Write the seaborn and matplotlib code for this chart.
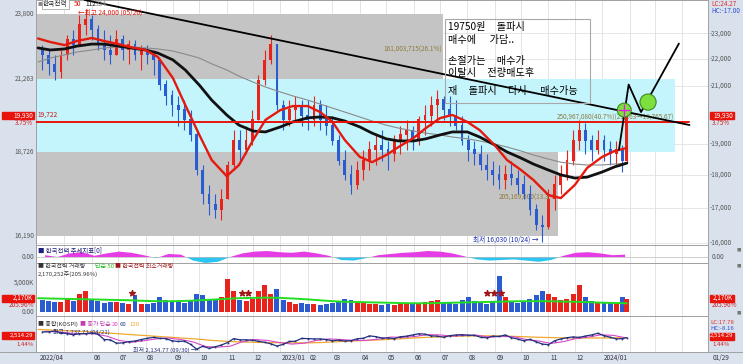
import numpy as np
import pandas as pd
import matplotlib
matplotlib.use("Agg")
import matplotlib.pyplot as plt
import matplotlib.dates as mdates
from matplotlib.patches import Rectangle
import seaborn as sns

sns.set_theme(style="white")
plt.rcParams['font.family'] = ['Noto Sans CJK KR', 'DejaVu Sans']

# ---------------- data (weekly) ----------------
week_start = "2022-04-04"
open_ = [22350, 22150, 21800, 21500, 22150, 22750, 22550, 23350, 23550, 23150,
         22550, 22350, 22150, 22750, 22350, 22550, 22150, 22350, 22150, 21950,
         21050, 20650, 20300, 20150, 19800, 19300, 18150, 17400, 17100, 16950,
         17250, 18300, 19100, 18800, 19100, 19800, 21200, 21950, 22550, 20300,
         19800, 20150, 20300, 19950, 19800, 20300, 19800, 19600, 19100, 18450,
         18000, 17700, 18150, 18450, 18800, 18950, 18800, 18650, 19100, 19300,
         19450, 19100, 19800, 19950, 20300, 20500, 20150, 19950, 19600, 19100,
         18800, 18650, 18300, 18150, 18000, 17850, 18000, 17900, 17700, 17400,
         16950, 16500, 16450, 17250, 17700, 18000, 18450, 19100, 19450, 19100,
         18800, 19100, 18800, 18650, 18800, 18450]
high = [22550, 22350, 22150, 22350, 22950, 23150, 23750, 24000, 23750, 23350,
        23150, 22950, 23150, 22950, 22750, 22750, 22550, 22550, 22350, 21950,
        21200, 20850, 20650, 20500, 20150, 19450, 18300, 17700, 17400, 17550,
        18450, 19450, 19450, 19600, 20150, 21400, 22350, 22950, 22600, 20500,
        20500, 20650, 20500, 20500, 20650, 20500, 20300, 19950, 19300, 18800,
        18300, 18450, 18800, 19100, 19300, 19450, 19100, 19300, 19600, 19800,
        19600, 19950, 20300, 20650, 20850, 20650, 20650, 20500, 19950, 19300,
        19100, 18950, 18650, 18450, 18300, 18300, 18450, 18150, 18000, 17700,
        17100, 16800, 17550, 18000, 18300, 18800, 19450, 19800, 19700, 19300,
        19450, 19300, 19100, 19100, 18950, 19980]
low = [21600, 21400, 21200, 21300, 21950, 22150, 22550, 22950, 22750, 22350,
       21950, 21800, 22150, 21950, 21800, 21950, 21600, 21800, 21400, 20850,
       20300, 19950, 19600, 19450, 19100, 18000, 17100, 16800, 16700, 16650,
       17250, 18150, 18450, 18650, 18950, 19800, 21050, 21800, 20150, 19450,
       19600, 19800, 19600, 19450, 19600, 19450, 19300, 18950, 18300, 17850,
       17400, 17550, 17850, 18150, 18300, 18450, 18150, 18450, 18650, 18800,
       18800, 18950, 19300, 19600, 19800, 19800, 19600, 19450, 18950, 18450,
       18300, 18150, 17850, 17700, 17550, 17550, 17700, 17400, 17250, 16800,
       16350, 16030, 16400, 16950, 17400, 17850, 18300, 18800, 18650, 18450,
       18650, 18450, 18300, 18300, 18100, 18400]
close = [22150, 21800, 21500, 22150, 22750, 22550, 23350, 23550, 23150, 22550,
         22350, 22150, 22750, 22350, 22550, 22150, 22350, 22150, 21950, 21050,
         20650, 20300, 20150, 19800, 19300, 18150, 17400, 17100, 16950, 17250,
         18300, 19100, 18800, 19100, 19800, 21200, 21950, 22550, 20300, 19800,
         20150, 20300, 19950, 19800, 20300, 19800, 19600, 19100, 18450, 18000,
         17700, 18150, 18450, 18800, 18950, 18800, 18650, 19100, 19300, 19450,
         19100, 19800, 19950, 20300, 20500, 20150, 19950, 19600, 19100, 18800,
         18650, 18300, 18150, 18000, 17850, 18000, 17900, 17700, 17400, 16950,
         16500, 16450, 17250, 17700, 18000, 18450, 19100, 19450, 19100, 18800,
         19100, 18800, 18650, 18800, 18450, 19930]
volume_k = [2000, 1800, 1600, 1700, 2200, 1800, 3000, 3500, 2000, 1800,
            1500, 1600, 1700, 1500, 1400, 2800, 1300, 1400, 1500, 2500,
            2000, 1800, 1600, 1500, 1800, 3000, 2800, 2200, 2000, 2500,
            5500, 3500, 2000, 1800, 2200, 3500, 4500, 3000, 3800, 2000,
            1600, 1400, 1500, 1300, 1400, 1200, 1300, 1500, 1800, 2200,
            2000, 1600, 1500, 1400, 1300, 1200, 1300, 1200, 1400, 1500,
            1300, 1500, 1600, 1800, 2000, 1700, 1500, 1400, 2000, 2500,
            1800, 1500, 1400, 1600, 6000, 2500, 1800, 1500, 1600, 2200,
            2800, 3500, 3000, 2500, 2000, 2200, 3000, 4500, 2500, 1800,
            1500, 1600, 1700, 1500, 2500, 2170]
kospi_close = [2700, 2700, 2730, 2670, 2645, 2605, 2640, 2640, 2670, 2625,
               2450, 2440, 2330, 2340, 2380, 2400, 2450, 2490, 2520, 2490,
               2480, 2410, 2385, 2400, 2290, 2135, 2230, 2160, 2210, 2270,
               2350, 2480, 2440, 2440, 2430, 2390, 2360, 2310, 2236, 2290,
               2385, 2395, 2485, 2480, 2470, 2470, 2450, 2410, 2430, 2400,
               2415, 2475, 2490, 2570, 2545, 2500, 2500, 2480, 2540, 2560,
               2600, 2640, 2625, 2570, 2560, 2525, 2575, 2600, 2610, 2590,
               2590, 2525, 2505, 2560, 2550, 2600, 2510, 2465, 2410, 2455,
               2375, 2300, 2280, 2410, 2470, 2510, 2535, 2520, 2565, 2600,
               2655, 2580, 2525, 2470, 2480, 2514]

# semi-monthly readings of the moving averages
ma_dates = ["2022-04-01", "2022-04-15", "2022-05-01", "2022-05-15", "2022-06-01", "2022-06-15",
            "2022-07-01", "2022-07-15", "2022-08-01", "2022-08-15", "2022-09-01", "2022-09-15",
            "2022-10-01", "2022-10-15", "2022-11-01", "2022-11-15", "2022-12-01", "2022-12-15",
            "2023-01-01", "2023-01-15", "2023-02-01", "2023-02-15", "2023-03-01", "2023-03-15",
            "2023-04-01", "2023-04-15", "2023-05-01", "2023-05-15", "2023-06-01", "2023-06-15",
            "2023-07-01", "2023-07-15", "2023-08-01", "2023-08-15", "2023-09-01", "2023-09-15",
            "2023-10-01", "2023-10-15", "2023-11-01", "2023-11-15", "2023-12-01", "2023-12-15",
            "2024-01-01", "2024-01-15", "2024-01-29"]
ma50 = [22800, 22660, 22540, 22700, 22820, 22700, 22580, 22460, 22350, 22080,
        21290, 20320, 19290, 18470, 17960, 18310, 19120, 19800, 20140, 20280,
        20280, 20070, 19730, 19120, 18570, 18400, 18630, 18890, 19190, 19520,
        19860, 19970, 19730, 19450, 18950, 18470, 18150, 17840, 17380, 17290,
        17690, 18220, 18570, 18760, 18860]
ma112 = [22430, 22350, 22390, 22500, 22580, 22580, 22500, 22430, 22350, 22230,
         21970, 21590, 21030, 20490, 19970, 19620, 19420, 19390, 19560, 19730,
         19870, 19900, 19870, 19760, 19560, 19350, 19160, 19090, 19090, 19160,
         19290, 19390, 19390, 19220, 18960, 18730, 18530, 18340, 18150, 18000,
         17900, 17930, 18090, 18250, 18370]
ma224 = [21890, 22040, 22160, 22270, 22350, 22430, 22470, 22470, 22430, 22390,
         22310, 22190, 22040, 21820, 21590, 21360, 21140, 20960, 20780, 20640,
         20490, 20350, 20210, 20070, 19900, 19760, 19620, 19520, 19420, 19350,
         19290, 19220, 19160, 19090, 18990, 18890, 18760, 18630, 18500, 18400,
         18340, 18310, 18310, 18340, 18370]
vol_ma50 = [2300, 2250, 2200, 2150, 2100, 2050, 2000, 1950, 1850, 1800,
            1800, 1850, 1950, 2050, 2200, 2300, 2350, 2400, 2350, 2250,
            2100, 1950, 1800, 1700, 1650, 1600, 1550, 1500, 1450, 1450,
            1500, 1550, 1600, 1650, 1700, 1750, 1800, 1800, 1800, 1750,
            1700, 1650, 1550, 1500, 1450]
kospi_ma120 = [2780, 2760, 2740, 2720, 2700, 2670, 2640, 2610, 2580, 2550,
               2520, 2490, 2460, 2420, 2390, 2370, 2360, 2350, 2345, 2340,
               2340, 2350, 2370, 2390, 2410, 2430, 2450, 2470, 2500, 2520,
               2540, 2555, 2565, 2570, 2570, 2560, 2545, 2530, 2515, 2505,
               2500, 2500, 2500, 2505, 2510]
# bi-weekly readings
kospi_ma20 = [2720, 2700, 2660, 2640, 2640, 2560, 2420, 2360, 2410, 2470,
              2500, 2450, 2370, 2220, 2200, 2230, 2380, 2450, 2420, 2350,
              2300, 2330, 2420, 2470, 2450, 2420, 2420, 2460, 2530, 2520,
              2550, 2610, 2600, 2560, 2590, 2590, 2530, 2550, 2540, 2450,
              2400, 2320, 2380, 2480, 2530, 2600, 2590, 2510]
trend_vals = [0.3, 0.0, 0.6, 0.8, 0.2, 0.6, 0.9, 0.7, 0.3, -0.2,
              0.5, 0.4, -0.6, -1.0, -0.8, 0.0, 0.6, 0.9, 1.0, 0.8,
              0.7, 0.9, 0.6, 0.2, -0.5, -0.6, -0.2, 0.3, 0.5, 0.7,
              0.8, 1.0, 0.9, 0.6, 0.1, -0.4, -0.6, -0.5, -0.4, -0.6,
              -0.8, -0.5, 0.2, 0.7, 0.8, 0.6, 0.3, 0.4]

# drawn annotations (date, price)
box_start = ["2022-03-29", "2022-03-29", "2022-03-29"]
box_end = ["2023-07-04", "2024-03-24", "2023-11-12"]
box_low = [21263, 18726, 16190]
box_high = [23800, 21263, 18726]
box_colors = ["#c4c4c4", "#c4f5fc", "#c4c4c4"]
box_labels = ["161,003,715(26.1%)", "250,967,080(40.7%)(21,263→19,765.67)", "205,169,000(13.3%)"]
box_label_price = [22350, 19880, 17300]
hline_price = 19722
hline_end = "2024-04-09"
trend_dates = ["2022-05-24", "2024-04-09"]
trend_prices = [24373, 19624]
path_dates = ["2024-01-20", "2024-01-31", "2024-02-14", "2024-03-28"]
path_prices = [18800, 21050, 20070, 22600]
circle_dates = ["2024-01-26", "2024-02-22"]
circle_prices = [20140, 20420]
star_dates = ["2022-07-17", "2022-11-18", "2022-11-25", "2023-08-23", "2023-08-31", "2023-09-08"]
star_vol = [3200, 3200, 3200, 3200, 3200, 3200]
right_ticks = [16000, 17000, 18000, 19000, 21000, 22000, 23000]
left_ticks = [23800, 21263, 18726, 16190]
month_labels = ["2022/04", "", "06", "07", "08", "09", "10", "11", "12", "2023/01", "02", "03",
                "04", "05", "06", "07", "08", "09", "10", "11", "12", "2024/01"]
note_lines = ["19750원     돌파시", "매수에      가담..", "손절가는     매수가",
              "이탈시     전량매도후", "재     돌파시     다시      매수가능"]

# ---------------- frame ----------------
W, H = 743, 364
fig = plt.figure(figsize=(W / 100, H / 100), dpi=100)
fig.patch.set_facecolor("white")
side = "#d9e1ec"
fig.add_artist(Rectangle((0, 0), 36 / W, 1, transform=fig.transFigure, color=side, zorder=0))
fig.add_artist(Rectangle((708 / W, 0), 35 / W, 1, transform=fig.transFigure, color=side, zorder=0))
fig.add_artist(Rectangle((0, 0), 1, 12 / H, transform=fig.transFigure, color="#dbe3ee", zorder=0))

SMALL = 4.6

def px_axes(x0, y0, x1, y1):
    return fig.add_axes([x0 / W, 1 - y1 / H, (x1 - x0) / W, (y1 - y0) / H])

def ftext(x, y, s, **kw):
    kw.setdefault("fontsize", SMALL)
    kw.setdefault("va", "center")
    fig.text(x / W, 1 - y / H, s, **kw)

def red_box(x0, x1, yc, s, fs=SMALL):
    fig.add_artist(Rectangle((x0 / W, 1 - (yc + 3.5) / H), (x1 - x0) / W, 7 / H,
                             transform=fig.transFigure, color="#e8140c", zorder=5))
    ftext(x1 - 1, yc, s, ha="right", color="white", zorder=6, fontsize=fs)

D = lambda s: mdates.date2num(pd.Timestamp(s))
xmin, xmax = D("2022-03-29 17:00"), D("2024-04-30")

ax_main = px_axes(36, 0, 708, 245)
ax_tr = px_axes(36, 245, 708, 263)
ax_vol = px_axes(36, 263, 708, 316)
ax_ks = px_axes(36, 316, 708, 352)

months = pd.date_range("2022-04-01", "2024-04-01", freq="MS")
for ax in (ax_main, ax_tr, ax_vol, ax_ks):
    ax.set_facecolor("white")
    ax.set_xlim(xmin, xmax)
    for m in months[1:]:
        ax.axvline(D(m), color="#dedede", lw=0.6, zorder=0)
    for sp in ax.spines.values():
        sp.set_color("#a0a0a0")
        sp.set_linewidth(0.7)

# ---------------- main price panel ----------------
ax_main.set_yscale("log")
ax_main.set_ylim(15939, 24373)
for p in right_ticks:
    ax_main.axhline(p, color="#e2e2e2", lw=0.6, zorder=0)

for i in range(3):
    ax_main.add_patch(Rectangle((D(box_start[i]), box_low[i]), D(box_end[i]) - D(box_start[i]),
                                box_high[i] - box_low[i], color=box_colors[i], zorder=1, lw=0))
    ax_main.text(D(box_end[i]) - 1, box_label_price[i], box_labels[i], ha="right", va="center",
                 fontsize=4.6, color="#8c7a3c", zorder=3)

wk = pd.date_range(week_start, periods=len(close), freq="7D")
xc = np.array([D(d) for d in wk]) + 2.0
xc[-1] = D("2024-01-29")
o, hi, lo, c = map(np.array, (open_, high, low, close))
up = c >= o
cols = np.where(up, "#e8231c", "#2a5bd0")
ax_main.vlines(xc, lo, hi, colors=cols, lw=0.8, zorder=4)
ax_main.bar(xc, np.abs(c - o) + 15, bottom=np.minimum(o, c), width=3.2, color=cols, zorder=4, lw=0)

ma_df = pd.DataFrame({"date": [D(d) for d in ma_dates], "ma50": ma50, "ma112": ma112, "ma224": ma224,
                      "vma": vol_ma50, "k120": kospi_ma120})
sns.lineplot(data=ma_df, x="date", y="ma224", ax=ax_main, color="#8a8a8a", lw=0.8, zorder=5)
sns.lineplot(data=ma_df, x="date", y="ma112", ax=ax_main, color="#111111", lw=2.0, zorder=6)
sns.lineplot(data=ma_df, x="date", y="ma50", ax=ax_main, color="#e41a0e", lw=1.7, zorder=7)

ax_main.plot([xmin, D(hline_end)], [hline_price, hline_price], color="#e8140c", lw=1.4, zorder=8)
ax_main.text(xmin + 2, hline_price + 120, "19,722", fontsize=4.8, color="#d01010", va="bottom", zorder=9)
ax_main.plot([D(d) for d in trend_dates], trend_prices, color="black", lw=1.3, zorder=9)
ax_main.plot([D(d) for d in path_dates], path_prices, color="black", lw=1.3, zorder=9)
ax_main.scatter([D(d) for d in circle_dates], circle_prices, s=[100, 135], color="#7ee03e",
                edgecolor="#3b8a1e", lw=0.8, zorder=10)
ax_main.scatter([D(circle_dates[0])], [circle_prices[0]], marker="+", s=70, color="#e020e0", lw=1.0, zorder=11)

for ax in (ax_main, ax_tr, ax_vol, ax_ks):
    ax.set_xlabel("")
    ax.set_ylabel("")
    ax.set_xticks([])
    ax.set_yticks([])
    ax.set_yticks([], minor=True)

# text box annotation
fig.add_artist(Rectangle((445 / W, 1 - 103 / H), 145 / W, 84 / H, transform=fig.transFigure,
                         fill=False, edgecolor="#a8a8a8", lw=0.8, zorder=20))
for yy, s in zip([27, 40, 61, 73, 91], note_lines):
    ftext(448, yy, s, fontsize=7.3, color="black", zorder=21)

# main panel legends / labels
ftext(38, 4, "■", color="#8a8a8a", fontsize=3.6)
ftext(43, 4, "한국전력", color="#222", fontsize=4.8,
      bbox=dict(boxstyle="square,pad=0.15", fc="white", ec="#999", lw=0.5))
ftext(74, 4, "50", color="#e41a0e", fontsize=4.8)
ftext(85, 4, "112", color="#222", fontsize=4.8)
ftext(96, 4, "224", color="#999", fontsize=4.8)
ftext(78, 13, "←최고 24,000 (05/26)", color="#e41a0e", fontsize=4.8)
ftext(473, 240, "최저 16,030 (10/24) →", color="#2030b0", fontsize=4.8)

for p in left_ticks:
    ax_main.text(-0.003, p, f"{p:,}", transform=ax_main.get_yaxis_transform(), ha="right",
                 va="center", fontsize=SMALL, color="#555")
for p in right_ticks:
    ax_main.text(1.003, p, f"-{p:,}", transform=ax_main.get_yaxis_transform(), ha="left",
                 va="center", fontsize=SMALL, color="#555")
ftext(711, 4, "LC:24.27", color="#e03030")
ftext(711, 11, "HC:-17.00", color="#3050d0")
red_box(2, 34, 116, "19,930")
ftext(33, 123, "3.75%", ha="right", color="#d02020")
red_box(710, 734, 116, "19,930")
ftext(712, 123, "3.75%", color="#d02020")

# ---------------- trend indicator ----------------
tr_x = np.array([D(d) for d in wk[::2]]) + 5.0
tv = np.array(trend_vals)
ax_tr.set_ylim(-1.0, 2.0)
ax_tr.fill_between(tr_x, 0, tv, where=tv >= 0, interpolate=True, color="#e63ce6", lw=0)
ax_tr.fill_between(tr_x, 0, tv, where=tv < 0, interpolate=True, color="#2cc4f0", lw=0)
ax_tr.axhline(0, color="#bbbbbb", lw=0.5)
ftext(38, 251, "■ 한국전력 추세지표[0]", color="#20207a")
ftext(34, 257, "0.00", ha="right", color="#555")
ftext(712, 257, "0.00", color="#555")

# ---------------- volume ----------------
ax_vol.set_ylim(-667, 8167)
ax_vol.bar(xc, volume_k, width=5.6, color=cols, lw=0, zorder=2)
sns.lineplot(data=ma_df, x="date", y="vma", ax=ax_vol, color="#22dd22", lw=1.4, zorder=3)
ax_vol.scatter([D(d) for d in star_dates], star_vol, marker="*", s=18, color="#a01818", zorder=4)
ax_vol.set_xlabel(""); ax_vol.set_ylabel(""); ax_vol.set_yticks([])
ftext(38, 267, "■ 한국전력 거래량", color="#333", fontsize=4.3)
ftext(95, 267, "단순 50", color="#22c022", fontsize=4.3)
ftext(115, 267, "■ 한국전력 최소거래량", color="#a01818", fontsize=4.3)
ftext(38, 274, "2,170,252주(205.96%)", color="#333", fontsize=4.3)
ftext(34, 283, "5,000K", ha="right", color="#555")
red_box(2, 34, 298, "2,170K")
ftext(34, 305, "205.96%", ha="right", color="#d02020")
ftext(34, 312, "0.00", ha="right", color="#555")
red_box(710, 734, 298, "2,170K")
ftext(712, 305, "205.96%", color="#d02020")

# ---------------- KOSPI ----------------
ax_ks.set_ylim(2040, 3222)
k_df = pd.DataFrame({"date": xc, "close": kospi_close})
k20 = pd.DataFrame({"date": tr_x, "ma20": kospi_ma20})
sns.lineplot(data=ma_df, x="date", y="k120", ax=ax_ks, color="#f0a830", lw=0.9)
sns.lineplot(data=k20, x="date", y="ma20", ax=ax_ks, color="#d848c8", lw=0.8)
sns.lineplot(data=k_df, x="date", y="close", ax=ax_ks, color="#23307e", lw=0.9,
             marker="s", markersize=1.2, markeredgewidth=0)
ax_ks.set_xlabel(""); ax_ks.set_ylabel(""); ax_ks.set_yticks([])
ftext(38, 324, "■ 종합(KOSPI)", color="#333", fontsize=4.3)
ftext(80, 324, "■ 종가 단순", color="#c040b0", fontsize=4.3)
ftext(112, 324, "20", color="#d848c8", fontsize=4.3)
ftext(120, 324, "60", color="#23307e", fontsize=4.3)
ftext(129, 324, "120", color="#f0a830", fontsize=4.3)
ftext(53, 332, "최고 2,737.73 (04/21)", color="#23307e", fontsize=4.3)
ftext(133, 350, "최저 2,134.77 (09/30) →", color="#23307e", fontsize=4.3)
red_box(2, 34, 335.5, "2,514.29", fs=4.3)
ftext(34, 344, "1.44%", ha="right", color="#d02020", fontsize=4.3)
ftext(710, 322.5, "LC:17.78", color="#e03030", fontsize=4.3)
ftext(710, 328.5, "HC:-8.16", color="#3050d0", fontsize=4.3)
red_box(710, 734, 336, "2,514.29", fs=4.3)
ftext(712, 344.5, "1.44%", color="#d02020", fontsize=4.3)

for yy in (250, 266, 313):
    ftext(737, yy, "■", color="#777", fontsize=3.2)

# ---------------- date strip ----------------
fig.add_artist(plt.Line2D([0, 1], [12 / H, 12 / H], transform=fig.transFigure, color="#a0a0a0", lw=0.7))
for m, lab in zip(months, month_labels):
    if not lab:
        continue
    xf = ax_main.transData.transform((D(m), 20000))[0] / fig.dpi / (W / 100)
    fig.text(xf + 1.5 / W, 1 - 358 / H, lab, fontsize=SMALL, color="#334", va="center")
ftext(713, 358, "01/29", color="#334")

fig.savefig("out.png", dpi=100)
